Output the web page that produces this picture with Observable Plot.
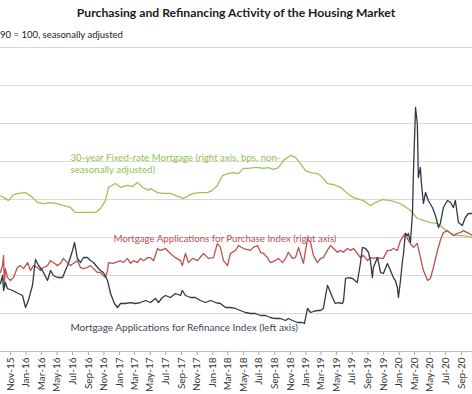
<!DOCTYPE html>
<html>
<head>
<meta charset="utf-8">
<script src="https://cdn.jsdelivr.net/npm/d3@7"></script>
<script src="https://cdn.jsdelivr.net/npm/@observablehq/plot@0.6"></script>
<style>
  html, body { margin: 0; padding: 0; background: #fff; }
  body { width: 472px; height: 394px; overflow: hidden; font-family: Lato, "Open Sans", sans-serif; }
  #title { height: 26px; line-height: 26px; font-size: 12.2px; font-weight: bold; text-align: center; color: #1a1a1a; white-space: nowrap; }
  #subtitle { height: 18px; line-height: 18px; font-size: 9.5px; color: #1a1a1a; white-space: nowrap; }
  #chart svg { display: block; }
</style>
</head>
<body>
<div id="title"></div>
<div id="subtitle"></div>
<div id="chart"></div>
<script>
const titleText = "Purchasing and Refinancing Activity of the Housing Market";
const subtitleText = "90 = 100, seasonally adjusted";

const xTickLabels = ["Nov-15","Jan-16","Mar-16","May-16","Jul-16","Sep-16","Nov-16","Jan-17","Mar-17","May-17","Jul-17","Sep-17","Nov-17","Jan-18","Mar-18","May-18","Jul-18","Sep-18","Nov-18","Jan-19","Mar-19","May-19","Jul-19","Sep-19","Nov-19","Jan-20","Mar-20","May-20","Jul-20","Sep-20"];

// left axis (refinance index), hidden in the crop
const leftTicks = [0, 1000, 2000, 3000, 4000, 5000, 6000, 7000, 8000];
const leftMax = 8000;
const rightMax = 800; // right axis: purchase index / bps

const xStart = "2015-09-23";
const xEnd = "2020-10-14";

// 30-year fixed-rate mortgage, bps (right axis)
const mortgageRate = [
["2015-09-23",410],["2015-10-12",403],["2015-10-24",397],["2015-11-13",413],["2015-12-02",416],["2015-12-30",418],["2016-01-18",410],["2016-01-30",403],["2016-02-15",392],["2016-03-09",389],["2016-04-06",392],["2016-05-03",389],["2016-05-26",384],["2016-06-23",379],["2016-07-12",366],["2016-08-09",366],["2016-09-01",366],["2016-09-29",366],["2016-10-18",376],["2016-11-07",397],["2016-11-19",432],["2016-12-16",442],["2017-01-05",432],["2017-02-01",437],["2017-02-21",434],["2017-03-12",445],["2017-04-01",432],["2017-04-24",424],["2017-05-02",429],["2017-05-30",418],["2017-06-22",416],["2017-07-19",416],["2017-08-16",408],["2017-09-08",403],["2017-09-28",410],["2017-10-17",416],["2017-11-14",418],["2017-12-11",418],["2017-12-31",424],["2018-01-19",437],["2018-02-08",463],["2018-02-28",468],["2018-03-23",471],["2018-04-12",468],["2018-05-01",482],["2018-05-21",482],["2018-06-09",484],["2018-06-29",484],["2018-07-19",482],["2018-08-07",484],["2018-08-27",479],["2018-09-15",484],["2018-10-05",503],["2018-11-01",516],["2018-11-21",511],["2018-12-10",495],["2018-12-30",476],["2019-01-19",471],["2019-02-15",468],["2019-02-27",463],["2019-03-26",442],["2019-04-19",439],["2019-05-16",432],["2019-06-12",416],["2019-07-06",405],["2019-08-14",397],["2019-09-10",384],["2019-09-30",392],["2019-10-27",400],["2019-11-28",397],["2019-12-25",392],["2020-01-18",384],["2020-02-14",371],["2020-03-12",350],["2020-04-05",345],["2020-05-02",339],["2020-05-30",337],["2020-06-22",324],["2020-07-20",311],["2020-08-16",305],["2020-09-08",305],["2020-10-14",300]
];

// Mortgage applications for purchase index (right axis)
const purchaseIndex = [
["2015-09-23",208],["2015-10-01",226],["2015-10-05",253],["2015-10-08",174],["2015-10-12",218],["2015-10-20",195],["2015-11-01",187],["2015-11-13",195],["2015-11-28",221],["2015-12-10",226],["2015-12-22",218],["2016-01-07",234],["2016-01-18",213],["2016-01-30",226],["2016-02-15",221],["2016-02-26",213],["2016-03-09",221],["2016-03-25",226],["2016-04-06",239],["2016-04-17",234],["2016-05-03",226],["2016-05-15",232],["2016-05-26",245],["2016-06-11",234],["2016-06-23",226],["2016-07-05",232],["2016-07-20",239],["2016-08-01",221],["2016-08-13",218],["2016-08-28",221],["2016-09-09",226],["2016-09-21",218],["2016-10-07",208],["2016-10-18",208],["2016-10-30",200],["2016-11-07",195],["2016-11-15",213],["2016-11-19",234],["2016-12-04",232],["2016-12-16",234],["2017-01-05",239],["2017-01-16",234],["2017-02-01",245],["2017-02-13",232],["2017-02-25",239],["2017-03-12",234],["2017-03-24",245],["2017-04-05",239],["2017-04-20",247],["2017-05-02",247],["2017-05-14",239],["2017-05-30",271],["2017-06-10",266],["2017-06-30",271],["2017-07-19",258],["2017-08-08",247],["2017-08-28",239],["2017-09-04",226],["2017-09-16",258],["2017-09-28",234],["2017-10-14",245],["2017-11-02",239],["2017-11-26",258],["2017-12-15",245],["2018-01-04",247],["2018-01-19",284],["2018-01-31",274],["2018-02-12",239],["2018-02-28",226],["2018-03-11",258],["2018-03-31",266],["2018-04-12",279],["2018-05-01",271],["2018-05-29",266],["2018-06-09",274],["2018-06-25",279],["2018-07-07",261],["2018-07-19",258],["2018-08-03",247],["2018-08-15",234],["2018-09-03",239],["2018-09-15",245],["2018-10-01",234],["2018-10-13",245],["2018-10-24",261],["2018-11-09",245],["2018-11-21",247],["2018-12-03",274],["2018-12-10",258],["2018-12-22",232],["2019-01-07",297],["2019-01-19",287],["2019-01-30",253],["2019-02-15",234],["2019-02-27",245],["2019-03-10",247],["2019-03-26",266],["2019-04-07",279],["2019-04-19",271],["2019-05-04",261],["2019-05-16",266],["2019-05-28",261],["2019-06-12",271],["2019-06-24",266],["2019-07-06",271],["2019-07-21",258],["2019-08-02",247],["2019-08-14",253],["2019-08-30",239],["2019-09-10",247],["2019-09-22",245],["2019-10-08",247],["2019-10-20",245],["2019-10-31",245],["2019-11-16",266],["2019-11-28",266],["2019-12-09",271],["2019-12-25",266],["2020-01-06",292],["2020-01-18",305],["2020-01-25",311],["2020-02-02",297],["2020-02-14",284],["2020-02-26",274],["2020-03-12",284],["2020-03-24",247],["2020-04-05",213],["2020-04-21",187],["2020-05-02",192],["2020-05-14",221],["2020-05-30",266],["2020-06-10",292],["2020-06-22",313],["2020-07-08",318],["2020-07-20",311],["2020-07-31",305],["2020-08-16",311],["2020-08-28",313],["2020-09-08",318],["2020-09-24",313],["2020-10-14",305]
];

// Mortgage applications for refinance index (left axis)
const refinanceIndex = [
["2015-09-23",1789],["2015-10-01",2000],["2015-10-05",1605],["2015-10-12",1816],["2015-10-20",1658],["2015-11-09",1605],["2015-12-02",1526],["2015-12-18",1474],["2015-12-30",1158],["2016-01-10",1342],["2016-01-26",1737],["2016-02-07",2421],["2016-02-19",2263],["2016-03-05",2132],["2016-03-25",1868],["2016-04-06",2132],["2016-04-17",2000],["2016-05-03",1947],["2016-05-23",1947],["2016-06-03",2132],["2016-06-15",2316],["2016-07-01",2658],["2016-07-09",2868],["2016-07-20",2447],["2016-08-01",2342],["2016-08-13",2474],["2016-08-28",2474],["2016-09-09",2395],["2016-09-21",2342],["2016-10-07",2211],["2016-10-18",2132],["2016-10-30",2079],["2016-11-15",1868],["2016-11-27",1526],["2016-12-12",1263],["2016-12-24",1158],["2017-01-05",1263],["2017-01-24",1263],["2017-02-13",1289],["2017-03-04",1263],["2017-03-24",1289],["2017-04-13",1342],["2017-05-02",1289],["2017-05-22",1395],["2017-06-02",1289],["2017-06-18",1421],["2017-06-30",1474],["2017-07-19",1421],["2017-08-08",1526],["2017-08-28",1474],["2017-09-04",1605],["2017-09-16",1474],["2017-10-06",1421],["2017-10-25",1421],["2017-11-14",1342],["2017-12-03",1289],["2017-12-23",1342],["2018-01-12",1289],["2018-01-31",1263],["2018-02-20",1158],["2018-03-11",1158],["2018-03-31",1132],["2018-04-19",1079],["2018-05-09",1026],["2018-05-29",1000],["2018-06-17",1000],["2018-07-07",947],["2018-07-26",947],["2018-08-15",895],["2018-09-03",868],["2018-09-23",868],["2018-10-13",816],["2018-10-24",868],["2018-11-09",816],["2018-11-29",763],["2018-12-18",763],["2018-12-26",737],["2019-01-07",1132],["2019-01-19",1026],["2019-01-30",1053],["2019-02-15",1079],["2019-02-27",1079],["2019-03-10",1132],["2019-03-26",1737],["2019-03-30",1684],["2019-04-15",1421],["2019-04-26",1263],["2019-05-08",1289],["2019-05-24",1263],["2019-05-28",1342],["2019-06-05",1921],["2019-06-16",1947],["2019-07-02",1921],["2019-07-21",1816],["2019-08-02",2316],["2019-08-10",2737],["2019-08-22",2711],["2019-09-03",2605],["2019-09-10",2395],["2019-09-18",1947],["2019-09-22",2211],["2019-10-08",2474],["2019-10-20",2079],["2019-10-31",2053],["2019-11-16",2316],["2019-11-28",2132],["2019-12-09",1947],["2019-12-17",1868],["2019-12-25",1684],["2019-12-29",1421],["2020-01-06",1868],["2020-01-14",2395],["2020-01-18",2579],["2020-01-25",3105],["2020-02-02",3053],["2020-02-06",3105],["2020-02-14",2868],["2020-02-22",3632],["2020-02-26",4763],["2020-03-05",6421],["2020-03-12",6000],["2020-03-16",4579],["2020-03-24",4842],["2020-03-28",4421],["2020-04-05",3895],["2020-04-13",4184],["2020-04-24",3974],["2020-05-10",3789],["2020-05-22",3579],["2020-06-03",3263],["2020-06-10",3368],["2020-06-22",3789],["2020-07-08",3974],["2020-07-20",3921],["2020-07-31",3789],["2020-08-08",3974],["2020-08-20",3395],["2020-09-04",3316],["2020-09-16",3526],["2020-09-28",3632],["2020-10-14",3632]
];

// series labels: [text, anchor date, anchor value on left axis scale, colour, font size]
const seriesLabels = [
  ["30-year Fixed-rate Mortgage (right axis, bps, non-\nseasonally adjusted)", "2016-06-23", 4950, "#92c050", 9.7],
  ["Mortgage Applications for Purchase Index (right axis)", "2016-12-08", 2974, "#c0504d", 9.7],
  ["Mortgage Applications for Refinance Index (left axis)", "2016-06-23", 632, "#3b4757", 10]
];

document.getElementById("title").textContent = titleText;
document.getElementById("subtitle").textContent = subtitleText;

const parseDate = d3.utcParse("%Y-%m-%d");
const parseTick = d3.utcParse("%b-%y");
const toRows = (arr) => arr.map(([d, v]) => ({date: parseDate(d), value: v}));
const rateRows = toRows(mortgageRate);
const purchaseRows = toRows(purchaseIndex);
const refiRows = toRows(refinanceIndex);
const tickDates = xTickLabels.map(parseTick);
const rightToLeft = leftMax / rightMax;
const labelRows = seriesLabels.map(([text, d, v, color, size]) => ({text, date: parseDate(d), value: v, color, size}));

const chart = Plot.plot({
  width: 472,
  height: 350,
  marginTop: 3,
  marginBottom: 43,
  marginLeft: 0,
  marginRight: 0,
  style: {fontFamily: "Lato, 'Open Sans', sans-serif", background: "#fff"},
  x: {type: "utc", domain: [parseDate(xStart), parseDate(xEnd)]},
  y: {domain: [0, leftMax], axis: null},
  marks: [
    Plot.ruleY(leftTicks.slice(1), {stroke: "#d9d9d9", strokeWidth: 1}),
    Plot.ruleY([0], {stroke: "#bfbfbf", strokeWidth: 1}),
    Plot.axisX({
      ticks: tickDates,
      tickFormat: (d, i) => xTickLabels[i],
      tickRotate: -90,
      tickSize: 4,
      tickPadding: 2,
      fontSize: 10,
      stroke: "#a6a6a6",
      fill: "#333333"
    }),
    Plot.line(rateRows, {x: "date", y: d => d.value * rightToLeft, stroke: "#9bc45c", strokeWidth: 1.3, clip: true}),
    Plot.line(purchaseRows, {x: "date", y: d => d.value * rightToLeft, stroke: "#c0504d", strokeWidth: 1.3, clip: true}),
    Plot.line(refiRows, {x: "date", y: "value", stroke: "#2e3a4a", strokeWidth: 1.3, clip: true}),
    ...labelRows.map(l => Plot.text([l], {x: "date", y: "value", text: "text", fill: l.color, textAnchor: "start", lineAnchor: "middle", lineHeight: 1.2, fontSize: l.size}))
  ]
});
document.getElementById("chart").appendChild(chart);
</script>
</body>
</html>
